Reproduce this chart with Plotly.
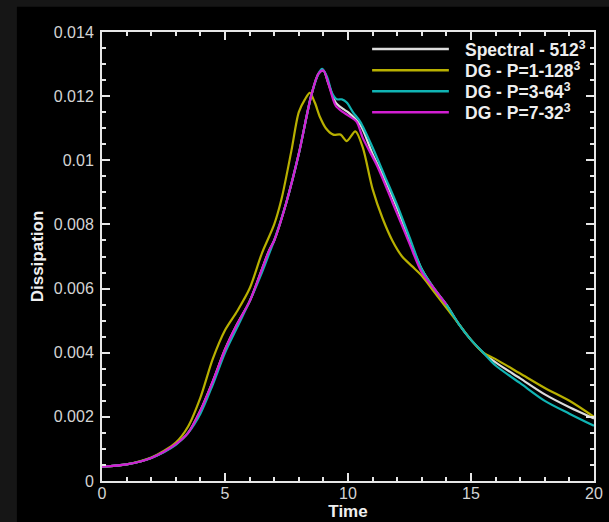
import plotly.graph_objects as go

# ---- data ----
t_spec = [0, 1, 2, 3, 3.5, 4, 4.5, 5, 5.5, 6, 6.5, 6.8, 7, 7.5, 8, 8.5, 8.8, 9.0, 9.2, 9.5, 9.8, 10, 10.5, 11, 11.5, 12, 12.5, 13, 13.5, 14, 14.5, 15, 15.5, 16, 17, 18, 19, 20]
d_spec = [0.00045, 0.00052, 0.00072, 0.00115, 0.0015, 0.0022, 0.0031, 0.0041, 0.0049, 0.0056, 0.0066, 0.0072, 0.0075, 0.0087, 0.0102, 0.0120, 0.0127, 0.0128, 0.0124, 0.0118, 0.0116, 0.0115, 0.0111, 0.0102, 0.0094, 0.0085, 0.0075, 0.0066, 0.0060, 0.0055, 0.0049, 0.0044, 0.0040, 0.0037, 0.0032, 0.0027, 0.0023, 0.00195]

t_p1 = [0, 1, 2, 3, 3.5, 4, 4.5, 5, 5.5, 6, 6.5, 7, 7.3, 7.7, 8.0, 8.25, 8.45, 8.65, 8.86, 9.1, 9.4, 9.7, 9.95, 10.3, 10.6, 11.0, 11.4, 11.8, 12.2, 12.6, 13, 13.5, 14, 14.5, 15, 15.5, 16, 17, 18, 19, 20]
d_p1 = [0.00045, 0.00052, 0.00073, 0.0012, 0.0017, 0.0026, 0.0038, 0.0047, 0.0053, 0.0060, 0.0071, 0.0080, 0.0088, 0.0103, 0.0115, 0.0119, 0.0121, 0.0118, 0.01135, 0.0110, 0.0108, 0.0108, 0.0106, 0.0109, 0.0104, 0.0091, 0.0082, 0.0075, 0.0070, 0.0067, 0.0064, 0.0059, 0.0054, 0.0049, 0.0044, 0.0040, 0.0038, 0.00335, 0.0029, 0.0025, 0.0020]

t_p3 = [0, 1, 2, 3, 3.5, 4, 4.5, 5, 5.5, 6, 6.5, 6.8, 7, 7.5, 8, 8.5, 8.8, 8.95, 9.15, 9.35, 9.55, 9.75, 9.95, 10.2, 10.5, 11, 11.5, 12, 12.5, 13, 13.5, 14, 14.5, 15, 15.5, 16, 17, 18, 19, 20]
d_p3 = [0.00045, 0.00052, 0.00072, 0.00113, 0.0015, 0.0021, 0.0030, 0.0040, 0.0048, 0.0056, 0.0065, 0.0071, 0.0075, 0.0087, 0.0102, 0.0120, 0.0127, 0.01285, 0.0126, 0.0121, 0.0119, 0.0119, 0.0118, 0.0115, 0.0112, 0.0104, 0.0095, 0.0086, 0.0076, 0.0066, 0.0060, 0.0055, 0.0049, 0.0044, 0.0040, 0.0036, 0.00305, 0.0025, 0.0021, 0.00172]

t_p7 = [0, 1, 2, 3, 3.5, 4, 4.5, 5, 5.5, 6, 6.5, 6.8, 7, 7.5, 8, 8.5, 8.8, 9.0, 9.2, 9.5, 9.8, 10, 10.35, 10.6, 11.2, 11.8, 12.5, 13, 13.5, 14]
d_p7 = [0.00045, 0.00052, 0.00072, 0.00115, 0.0015, 0.0022, 0.0031, 0.0041, 0.0049, 0.0056, 0.0066, 0.0072, 0.0075, 0.0087, 0.0102, 0.0120, 0.0127, 0.0128, 0.0124, 0.0117, 0.0115, 0.0114, 0.0112, 0.0107, 0.0098, 0.0087, 0.0074, 0.0065, 0.0060, 0.0055]

names = ["Spectral - 512<sup>3</sup>", "DG - P=1-128<sup>3</sup>", "DG - P=3-64<sup>3</sup>", "DG - P=7-32<sup>3</sup>"]
colors = ["#dcdcdc", "#b8b000", "#10b4b4", "#d21ed2"]

fontfam = "Liberation Sans, Arial, sans-serif"

fig = go.Figure()
series = [(t_spec, d_spec), (t_p1, d_p1), (t_p3, d_p3), (t_p7, d_p7)]
for i, (tx, dy) in enumerate(series):
    fig.add_trace(go.Scatter(x=tx, y=dy, mode="lines", name=names[i], showlegend=False,
                             line=dict(color=colors[i], width=2.2, shape="spline", smoothing=0.8)))

# legend drawn as line samples + labels (paper coordinates)
leg_rows = [0.962, 0.915, 0.868, 0.821]
for i in range(4):
    fig.add_shape(type="line", xref="paper", yref="paper", x0=0.549, x1=0.705,
                  y0=leg_rows[i], y1=leg_rows[i], line=dict(color=colors[i], width=2.5))
    fig.add_annotation(xref="paper", yref="paper", x=0.733, y=leg_rows[i], xanchor="left", yanchor="middle",
                       text="<b>" + names[i] + "</b>", showarrow=False,
                       font=dict(family=fontfam, size=17.5, color="#eeeeee"))

axis_common = dict(showline=True, linecolor="#e6e6e6", linewidth=2, mirror="ticks",
                   ticks="inside", tickcolor="#e6e6e6", tickwidth=2, ticklen=8,
                   showgrid=False, zeroline=False, automargin=False,
                   tickfont=dict(family=fontfam, size=16, color="#d4d4d4"))

fig.update_xaxes(range=[0, 20], dtick=5, tick0=0, ticklabelstandoff=-3,
                 minor=dict(ticks="inside", dtick=1, ticklen=4, tickcolor="#e6e6e6", tickwidth=1.5, showgrid=False),
                 title=dict(text="<b>Time</b>", font=dict(family=fontfam, size=17, color="#f0f0f0"), standoff=1),
                 **axis_common)
fig.update_yaxes(range=[0, 0.014], dtick=0.002, tick0=0, ticklabelstandoff=3,
                 minor=dict(ticks="inside", dtick=0.0005, ticklen=4, tickcolor="#e6e6e6", tickwidth=1.5, showgrid=False),
                 title=dict(text="<b>Dissipation</b>", font=dict(family=fontfam, size=17, color="#f0f0f0"), standoff=6),
                 **axis_common)

# black panel behind the chart (pixel region converted to paper coords)
fig.add_shape(type="rect", xref="paper", yref="paper", x0=-0.173, x1=1.04, y0=-0.1, y1=1.056,
              fillcolor="#000000", line=dict(width=0), layer="below")

fig.update_layout(
    width=609, height=522,
    margin=dict(l=102, r=15, t=32, b=41),
    paper_bgcolor="#161616", plot_bgcolor="#000000",
    showlegend=False,
)
fig.write_html("out.html")
